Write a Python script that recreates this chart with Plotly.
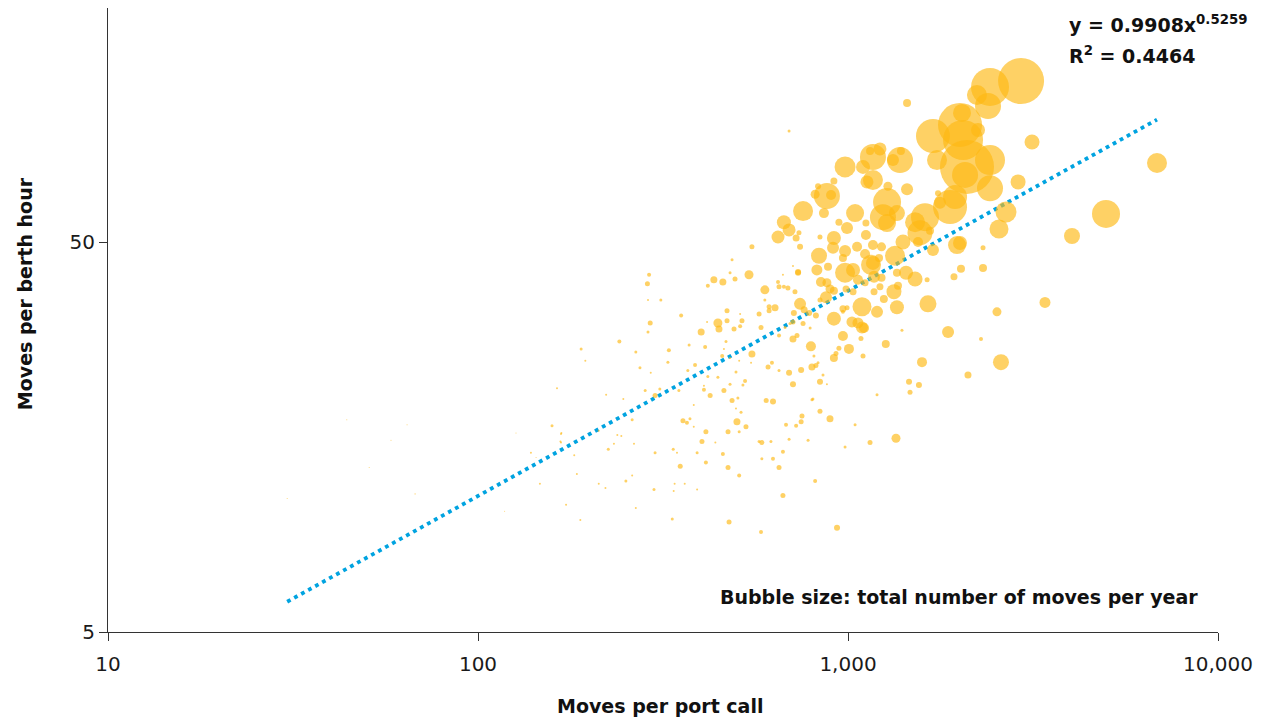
import numpy as np
import plotly.graph_objects as go

# Container terminals: moves per port call vs moves per berth hour,
# bubble area = total number of moves per year (thousands)
moves_per_call = [
    2936, 2420, 2231, 2390, 1444, 1697, 2008, 2033, 2246, 2046,
    2097, 2420, 1740, 2072, 2420, 2882, 3143, 1382, 1323, 1390,
    1168, 1220, 1147, 1098, 1168, 1125, 1282, 1444, 1045, 1275,
    1243, 1356, 1275, 1518, 1615, 1887, 1947, 1773, 1565, 1666,
    1408, 1546, 1971, 2673, 2559, 1751, 1118, 1118, 6841, 4981,
    4031, 693, 2317, 982, 916, 877, 900, 815, 830, 756,
    861, 945, 994, 671, 693, 737, 647, 724, 840, 916,
    742, 835, 911, 982, 969, 1058, 1112, 1168, 1154, 982,
    1032, 824, 883, 733, 845, 877, 894, 916, 872, 840,
    1064, 1112, 1176, 1176, 1220, 988, 1032, 540, 550, 486,
    480, 459, 434, 418, 495, 290, 287, 288, 312, 292,
    288, 241, 190, 195, 267, 274, 293, 283, 222, 247,
    301, 310, 326, 328, 354, 372, 401, 411, 416, 445,
    448, 471, 471, 492, 511, 517, 511, 468, 462, 457,
    550, 547, 508, 480, 386, 369, 418, 445, 498, 527,
    520, 480, 462, 408, 408, 424, 486, 504, 498, 349,
    383, 575, 582, 596, 596, 612, 612, 635, 647, 651,
    671, 688, 719, 733, 710, 667, 714, 742, 761, 785,
    756, 819, 710, 697, 676, 651, 728, 710, 790, 916,
    969, 994, 969, 1025, 1064, 1091, 1105, 1091, 1198, 969,
    1084, 1006, 945, 916, 928, 794, 809, 830, 840, 877,
    856, 799, 819, 747, 693, 710, 651, 623, 608, 601,
    627, 1098, 1198, 804, 514, 358, 367, 374, 383, 413,
    403, 438, 474, 501, 530, 508, 459, 474, 508, 413,
    391, 352, 337, 345, 340, 362, 338, 391, 299, 301,
    251, 261, 221, 212, 225, 233, 238, 244, 261, 264,
    182, 185, 173, 189, 267, 335, 477, 582, 934, 667,
    815, 651, 627, 585, 667, 585, 575, 619, 693, 780,
    982, 1147, 1045, 894, 840, 751, 747, 724, 680, 799,
    212, 167, 168, 2008, 1697, 1232, 1340, 1213, 1168, 1435,
    1518, 1356, 1232, 1636, 1331, 1365, 1250, 1356, 1645, 2317,
    2020, 1934, 3407, 2527, 1399, 1864, 2288, 1265, 2591, 1585,
    2110, 1462, 1555, 1471, 1348, 44.2, 64.3, 58.2, 50.8, 67.6,
    30.5, 158.5, 167.6, 167.6, 139, 143.5, 147, 126.7, 118, 163.5,
]

moves_per_hour = [
    129.4, 124.9, 119.1, 111.6, 113.6, 93.5, 99.8, 107.1, 96.9, 91.3,
    77.9, 81.1, 81.1, 74.3, 68.7, 71.3, 90.2, 81.1, 81.1, 85.6,
    82.6, 86.6, 85.6, 77.9, 72.1, 71.3, 69.5, 68.3, 59.3, 63.3,
    57.9, 59.3, 55.9, 56.2, 57.9, 61.5, 65.2, 63.0, 52.8, 53.4,
    50.0, 50.0, 49.1, 59.7, 54.0, 66.7, 55.9, 52.1, 79.7, 59.0,
    51.8, 96.3, 48.3, 77.9, 71.7, 65.6, 66.0, 66.3, 69.5, 60.0,
    59.3, 56.2, 54.3, 56.2, 53.7, 52.8, 51.5, 51.2, 51.5, 51.2,
    48.6, 46.1, 48.3, 47.4, 45.5, 48.6, 46.6, 49.1, 43.7, 41.7,
    42.4, 42.4, 43.2, 41.9, 39.5, 39.3, 37.9, 37.5, 36.1, 35.5,
    40.0, 39.3, 40.7, 37.3, 38.4, 37.9, 37.3, 41.2, 48.6, 45.0,
    41.7, 39.5, 40.0, 38.6, 40.2, 41.2, 39.1, 35.5, 35.5, 31.0,
    29.4, 27.8, 26.6, 24.8, 26.1, 23.8, 23.1, 20.8, 20.3, 19.8,
    20.2, 21.0, 24.6, 26.4, 32.4, 27.2, 29.4, 26.9, 31.2, 31.0,
    29.9, 31.4, 33.3, 29.9, 30.4, 31.4, 32.7, 27.8, 26.6, 25.5,
    25.8, 24.5, 24.8, 25.2, 24.2, 23.4, 22.6, 22.5, 23.2, 22.0,
    21.5, 21.6, 20.8, 21.4, 20.9, 20.2, 19.6, 19.9, 18.7, 20.8,
    19.1, 32.7, 30.2, 37.7, 35.5, 34.1, 33.3, 33.9, 39.5, 38.4,
    38.4, 38.1, 37.3, 41.7, 43.4, 41.2, 32.9, 34.7, 33.5, 32.9,
    30.9, 32.4, 31.2, 30.9, 30.2, 28.8, 28.8, 28.2, 30.1, 31.8,
    33.7, 33.9, 33.1, 31.2, 31.0, 30.2, 30.1, 34.1, 33.1, 28.7,
    28.3, 26.6, 26.7, 25.2, 25.9, 27.0, 25.5, 24.5, 21.9, 21.6,
    22.8, 23.9, 24.1, 23.5, 23.1, 21.6, 23.4, 24.5, 23.9, 19.6,
    19.5, 25.5, 20.3, 19.8, 18.3, 17.4, 17.2, 17.6, 16.8, 16.3,
    15.4, 15.3, 16.3, 17.3, 16.8, 16.3, 14.3, 13.2, 12.6, 13.6,
    14.4, 13.3, 14.7, 14.4, 12.0, 12.0, 11.5, 11.6, 11.6, 14.4,
    12.2, 12.6, 11.7, 12.0, 14.7, 15.2, 16.0, 15.9, 17.5, 15.2,
    14.2, 12.7, 10.6, 9.69, 10.4, 9.75, 9.57, 9.02, 9.25, 11.2,
    12.2, 13.2, 13.9, 13.9, 14.5, 15.3, 15.4, 15.4, 15.6, 15.5,
    14.9, 15.3, 17.0, 17.6, 18.4, 17.9, 17.3, 16.9, 17.0, 19.7,
    16.4, 15.4, 16.2, 49.7, 47.7, 48.6, 46.1, 45.5, 44.2, 41.7,
    40.2, 41.7, 40.5, 40.0, 37.3, 38.6, 35.7, 34.0, 34.7, 42.9,
    42.7, 40.7, 35.0, 33.1, 29.7, 29.4, 28.2, 27.4, 24.6, 24.6,
    22.8, 21.9, 21.5, 20.6, 15.7, 17.5, 17.0, 15.5, 13.2, 11.3,
    11.0, 16.9, 16.1, 15.3, 14.4, 14.0, 12.0, 16.2, 10.2, 21.1,
]

total_moves_k = [
    4232, 2888, 800, 1352, 128, 2312, 3872, 648, 392, 3200,
    5832, 1800, 800, 1352, 1352, 450, 450, 1352, 288, 128,
    1352, 338, 128, 392, 800, 338, 162, 288, 648, 1568,
    1352, 512, 648, 800, 1568, 2312, 1152, 288, 1250, 128,
    450, 200, 648, 882, 722, 72, 98, 200, 800, 1568,
    512, 18, 50, 882, 98, 1352, 200, 162, 72, 800,
    200, 98, 288, 392, 338, 50, 338, 98, 50, 392,
    72, 512, 288, 288, 128, 200, 200, 200, 800, 800,
    392, 242, 128, 72, 200, 162, 162, 128, 288, 50,
    200, 98, 288, 98, 98, 98, 98, 162, 50, 18,
    18, 98, 98, 32, 50, 32, 50, 8, 18, 50,
    18, 32, 18, 8, 18, 18, 8, 18, 8, 8,
    50, 18, 18, 32, 32, 18, 98, 32, 8, 162,
    98, 50, 50, 50, 32, 50, 8, 18, 8, 32,
    98, 8, 8, 8, 32, 18, 18, 18, 18, 32,
    18, 18, 50, 8, 32, 50, 50, 18, 8, 18,
    8, 50, 50, 162, 18, 50, 50, 98, 32, 50,
    32, 50, 50, 72, 8, 8, 72, 288, 98, 72,
    50, 72, 50, 18, 18, 32, 50, 98, 18, 392,
    98, 50, 32, 242, 242, 288, 200, 722, 288, 200,
    50, 200, 50, 128, 50, 200, 18, 18, 72, 8,
    18, 98, 50, 72, 72, 72, 18, 32, 50, 50,
    72, 50, 18, 18, 18, 50, 32, 18, 8, 50,
    50, 8, 50, 98, 50, 18, 32, 50, 32, 32,
    18, 50, 18, 8, 8, 8, 8, 8, 18, 18,
    18, 8, 8, 8, 18, 8, 8, 8, 18, 8,
    8, 8, 8, 8, 8, 18, 50, 32, 72, 50,
    32, 50, 32, 18, 32, 50, 18, 18, 18, 18,
    18, 50, 18, 98, 50, 50, 50, 32, 32, 18,
    8, 8, 8, 392, 288, 162, 800, 128, 392, 392,
    450, 128, 128, 50, 450, 128, 128, 392, 578, 128,
    128, 98, 242, 162, 18, 288, 32, 128, 512, 200,
    98, 72, 72, 50, 162, 2, 2, 2, 2, 3,
    2, 18, 8, 8, 8, 2, 8, 2, 2, 8,
]

# Power-law fit reported on the chart: y = 0.9908 * x^0.5259
fit_coef = 0.9908
fit_exp = 0.5259
fit_r2 = 0.4464

x_fit = np.logspace(np.log10(min(moves_per_call)), np.log10(max(moves_per_call)), 200)
y_fit = fit_coef * x_fit ** fit_exp

FONT = "'DejaVu Sans', Verdana, sans-serif"
AXIS_COLOR = "#333333"
TEXT_COLOR = "#111111"

fig = go.Figure()

fig.add_trace(go.Scatter(
    x=x_fit, y=y_fit, mode="lines",
    line=dict(color="#00A3E0", width=3.8, dash="3.8px,4.2px"),
    hoverinfo="skip", showlegend=False,
))

fig.add_trace(go.Scatter(
    x=moves_per_call, y=moves_per_hour, mode="markers",
    marker=dict(
        size=total_moves_k, sizemode="area", sizeref=4.0, sizemin=0.5,
        color="rgb(253,185,19)", opacity=0.65, line=dict(width=0),
    ),
    showlegend=False,
))

tick_font = dict(family=FONT, size=20, color="#1a1a1a")
fig.update_layout(
    width=1270, height=721,
    margin=dict(l=108, r=52, t=8, b=89),
    paper_bgcolor="white", plot_bgcolor="white",
    font=dict(family=FONT, size=20, color="#1a1a1a"),
    xaxis=dict(
        type="log", range=[1, 4],
        tickvals=[10, 100, 1000, 10000],
        ticktext=["10", "100", "1,000", "10,000"],
        showgrid=False, zeroline=False,
        showline=True, linecolor=AXIS_COLOR, linewidth=1,
        ticks="outside", ticklen=8, tickcolor=AXIS_COLOR,
        ticklabelstandoff=6, tickfont=tick_font,
    ),
    yaxis=dict(
        type="log", range=[np.log10(5), np.log10(5) + 1.6],
        tickvals=[5, 50], ticktext=["5", "50"],
        showgrid=False, zeroline=False,
        showline=True, linecolor=AXIS_COLOR, linewidth=1,
        ticks="outside", ticklen=8, tickcolor=AXIS_COLOR,
        tickfont=tick_font,
    ),
    annotations=[
        dict(text="<b>Moves per port call</b>", xref="paper", yref="paper",
             x=0.497, y=-0.1186, xanchor="center", yanchor="middle",
             showarrow=False, font=dict(family=FONT, size=19, color=TEXT_COLOR)),
        dict(text="<b>Moves per berth hour</b>", xref="paper", yref="paper",
             x=-0.0748, y=0.543, xanchor="center", yanchor="middle", textangle=-90,
             showarrow=False, font=dict(family=FONT, size=19, color=TEXT_COLOR)),
        dict(text=f"<b>y = {fit_coef}x<sup>{fit_exp}</sup></b>", xref="paper", yref="paper",
             x=0.864, y=0.975, xanchor="left", yanchor="middle",
             showarrow=False, font=dict(family=FONT, size=19, color=TEXT_COLOR)),
        dict(text=f"<b>R<sup>2</sup> = {fit_r2}</b>", xref="paper", yref="paper",
             x=0.864, y=0.924, xanchor="left", yanchor="middle",
             showarrow=False, font=dict(family=FONT, size=19, color=TEXT_COLOR)),
        dict(text="<b>Bubble size: total number of moves per year</b>", xref="paper", yref="paper",
             x=0.984, y=0.056, xanchor="right", yanchor="middle",
             showarrow=False, font=dict(family=FONT, size=19, color=TEXT_COLOR)),
    ],
)

fig.write_html("out.html")
